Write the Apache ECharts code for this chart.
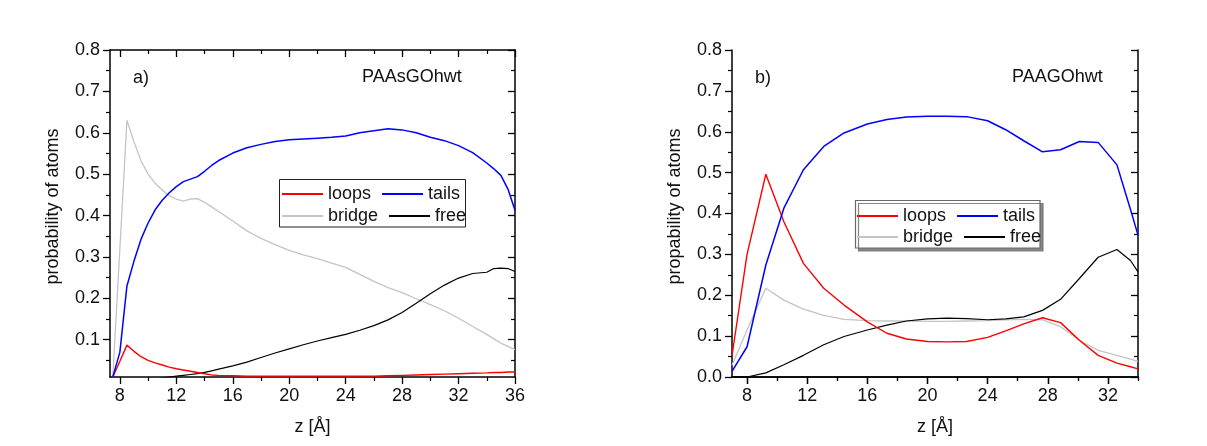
<!DOCTYPE html>
<html>
<head>
<meta charset="utf-8">
<script src="https://cdn.jsdelivr.net/npm/echarts@6/dist/echarts.min.js"></script>
<style>
  html, body { margin: 0; padding: 0; background: #ffffff; }
  #chart { width: 1207px; height: 446px; }
</style>
</head>
<body>
<div id="chart"></div>
<script>
// Panel a) PAAsGOhwt
const zA = [7.5, 8, 8.5, 9, 9.5, 10, 10.5, 11, 11.5, 12, 12.5, 13, 13.5, 14, 14.5, 15, 16, 17, 18, 19, 20,
            21, 22, 23, 24, 25, 26, 27, 28, 29, 30, 31, 32, 33, 34, 34.5, 35, 35.5, 36];
const loopsA = [0.010, 0.048, 0.087, 0.072, 0.059, 0.050, 0.044, 0.039, 0.034, 0.030, 0.027, 0.024, 0.021,
                0.018, 0.015, 0.014, 0.013, 0.012, 0.012, 0.012, 0.012, 0.012, 0.012, 0.012, 0.012, 0.012,
                0.012, 0.013, 0.014, 0.015, 0.016, 0.017, 0.018, 0.019, 0.020, 0.021, 0.021, 0.022, 0.022];
const tailsA = [0.010, 0.070, 0.230, 0.290, 0.343, 0.382, 0.414, 0.437, 0.455, 0.470, 0.482, 0.488, 0.494,
                0.507, 0.521, 0.533, 0.551, 0.564, 0.572, 0.579, 0.583, 0.585, 0.587, 0.589, 0.592, 0.600,
                0.605, 0.610, 0.607, 0.600, 0.589, 0.581, 0.569, 0.552, 0.527, 0.513, 0.497, 0.464, 0.413];
const bridgeA = [0.010, 0.320, 0.630, 0.578, 0.532, 0.500, 0.478, 0.462, 0.448, 0.440, 0.435, 0.440, 0.441,
                 0.432, 0.421, 0.410, 0.387, 0.363, 0.345, 0.330, 0.316, 0.305, 0.296, 0.285, 0.275, 0.258,
                 0.241, 0.226, 0.214, 0.199, 0.185, 0.170, 0.152, 0.132, 0.113, 0.102, 0.092, 0.084, 0.076];
const freeA = [0, 0, 0, 0, 0, 0, 0, 0.008, 0.010, 0.012, 0.014, 0.016, 0.018,
               0.021, 0.025, 0.029, 0.037, 0.046, 0.057, 0.068, 0.078, 0.088, 0.097, 0.105, 0.113, 0.123,
               0.134, 0.148, 0.166, 0.188, 0.211, 0.232, 0.249, 0.260, 0.263, 0.272, 0.273, 0.272, 0.265];

// Panel b) PAAGOhwt
const zB = [7.0, 8.0, 9.25, 10.45, 11.75, 13.1, 14.45, 16.0, 17.3, 18.6, 20.0, 21.3, 22.6, 24.0, 25.2,
            26.4, 27.65, 28.85, 30.1, 31.35, 32.6, 33.5, 34.0];
const loopsB = [0.052, 0.300, 0.496, 0.380, 0.278, 0.217, 0.176, 0.135, 0.107, 0.093, 0.087, 0.086, 0.087,
                0.097, 0.113, 0.130, 0.145, 0.133, 0.090, 0.053, 0.034, 0.025, 0.020];
const tailsB = [0.014, 0.074, 0.274, 0.413, 0.507, 0.564, 0.597, 0.619, 0.630, 0.636, 0.638, 0.638, 0.637,
                0.627, 0.605, 0.578, 0.551, 0.556, 0.576, 0.574, 0.519, 0.410, 0.347];
const bridgeB = [0.029, 0.115, 0.217, 0.188, 0.166, 0.151, 0.141, 0.138, 0.137, 0.137, 0.136, 0.136, 0.137,
                 0.138, 0.140, 0.141, 0.140, 0.123, 0.090, 0.065, 0.053, 0.044, 0.038];
const freeB = [0.000, 0.000, 0.010, 0.030, 0.053, 0.079, 0.099, 0.115, 0.127, 0.137, 0.142, 0.144, 0.143,
               0.140, 0.142, 0.147, 0.163, 0.190, 0.241, 0.293, 0.312, 0.285, 0.257];

// Tick positions
const xTicksA = [8, 12, 16, 20, 24, 28, 32, 36];
const xMinorA = [10, 14, 18, 22, 26, 30, 34];
const xTicksB = [8, 12, 16, 20, 24, 28, 32];
const xMinorB = [10, 14, 18, 22, 26, 30, 34];
const yTicksA = [0.1, 0.2, 0.3, 0.4, 0.5, 0.6, 0.7, 0.8];
const yTicksB = [0.0, 0.1, 0.2, 0.3, 0.4, 0.5, 0.6, 0.7, 0.8];
const yMinor = [0.05, 0.15, 0.25, 0.35, 0.45, 0.55, 0.65, 0.75];

const legendRow1 = ['loops', 'tails'];
const legendRow2 = ['bridge', 'free'];
const seriesColors = { loops: '#ff0000', tails: '#0000ff', bridge: '#c4c4c4', free: '#000000' };
const seriesWidths = { loops: 1.4, tails: 1.5, bridge: 1.3, free: 1.2 };

const FONT = "'Liberation Sans', Arial, sans-serif";
const INK = '#111111';

function pairs(xs, ys) { return xs.map((x, i) => [x, ys[i]]); }

function xAxesFor(grid, min, max, major, minor) {
  const base = { type: 'value', gridIndex: grid, min: min, max: max, splitLine: { show: false } };
  const line = { show: true, lineStyle: { color: '#000', width: 1.5 } };
  return [
    Object.assign({}, base, {
      position: 'bottom', axisLine: line,
      axisTick: { show: true, inside: false, length: 7, customValues: major, lineStyle: { color: '#000', width: 1.3 } },
      axisLabel: { show: true, customValues: major, margin: 10, color: INK, fontSize: 18, fontFamily: FONT },
      name: 'z [Å]', nameLocation: 'middle', nameGap: 41,
      nameTextStyle: { color: INK, fontSize: 18, fontFamily: FONT }
    }),
    Object.assign({}, base, {
      position: 'bottom', axisLine: { show: false },
      axisTick: { show: true, inside: false, length: 4, customValues: minor, lineStyle: { color: '#000', width: 1.2 } },
      axisLabel: { show: false }
    }),
    Object.assign({}, base, {
      position: 'top', axisLine: line,
      axisTick: { show: true, inside: true, length: 7, customValues: major, lineStyle: { color: '#000', width: 1.3 } },
      axisLabel: { show: false }
    }),
    Object.assign({}, base, {
      position: 'top', axisLine: { show: false },
      axisTick: { show: true, inside: true, length: 4, customValues: minor, lineStyle: { color: '#000', width: 1.2 } },
      axisLabel: { show: false }
    })
  ];
}

function yAxesFor(grid, min, max, major, minor, yName) {
  const base = { type: 'value', gridIndex: grid, min: min, max: max, splitLine: { show: false } };
  const line = { show: true, lineStyle: { color: '#000', width: 1.5 } };
  return [
    Object.assign({}, base, {
      position: 'left', axisLine: line,
      axisTick: { show: true, inside: false, length: 7, customValues: major, lineStyle: { color: '#000', width: 1.3 } },
      axisLabel: { show: true, customValues: major, margin: 10, color: INK, fontSize: 18, fontFamily: FONT,
                   formatter: v => v.toFixed(1) },
      name: yName, nameLocation: 'middle', nameGap: 48,
      nameTextStyle: { color: INK, fontSize: 18, fontFamily: FONT, padding: [0, 0, 0, 14] }
    }),
    Object.assign({}, base, {
      position: 'left', axisLine: { show: false },
      axisTick: { show: true, inside: false, length: 4, customValues: minor, lineStyle: { color: '#000', width: 1.2 } },
      axisLabel: { show: false }
    }),
    Object.assign({}, base, {
      position: 'right', axisLine: line,
      axisTick: { show: true, inside: true, length: 7, customValues: major, lineStyle: { color: '#000', width: 1.3 } },
      axisLabel: { show: false }
    }),
    Object.assign({}, base, {
      position: 'right', axisLine: { show: false },
      axisTick: { show: true, inside: true, length: 4, customValues: minor, lineStyle: { color: '#000', width: 1.2 } },
      axisLabel: { show: false }
    })
  ];
}

function lineSeries(name, grid, xs, ys) {
  return {
    type: 'line', name: name,
    xAxisIndex: grid * 4, yAxisIndex: grid * 4,
    data: pairs(xs, ys),
    symbol: 'none', smooth: false, clip: true,
    lineStyle: { color: seriesColors[name], width: seriesWidths[name] },
    itemStyle: { color: seriesColors[name] },
    emphasis: { disabled: true }
  };
}

// One legend row: short coloured bars standing in for line samples
function legendRow(names, left, top) {
  return {
    data: names.map(n => ({ name: n, icon: 'rect', itemStyle: { color: seriesColors[n] } })),
    orient: 'horizontal', left: left, top: top, padding: 0,
    itemGap: 11, itemWidth: 41, itemHeight: 2,
    textStyle: { color: INK, fontSize: 18, fontFamily: FONT },
    selectedMode: false, z: 6
  };
}

const option = {
  animation: false,
  backgroundColor: '#ffffff',
  grid: [
    { left: 110, top: 50, width: 405, height: 327 },
    { left: 732, top: 50, width: 406, height: 327 }
  ],
  xAxis: [].concat(
    xAxesFor(0, 7.3, 36, xTicksA, xMinorA),
    xAxesFor(1, 7, 34, xTicksB, xMinorB)
  ),
  yAxis: [].concat(
    yAxesFor(0, 0.01, 0.8, yTicksA, yMinor, 'probability of atoms'),
    yAxesFor(1, 0, 0.8, yTicksB, yMinor, 'propability of atoms')
  ),
  legend: [
    legendRow(legendRow1, 282, 185),
    legendRow(legendRow2, 282, 207),
    legendRow(legendRow1, 857, 207),
    legendRow(legendRow2, 857, 228)
  ],
  graphic: [
    // legend frames
    { type: 'rect', z: 5, shape: { x: 279.5, y: 179.5, width: 186, height: 47.5 },
      style: { fill: '#ffffff', stroke: '#222222', lineWidth: 1 } },
    { type: 'rect', z: 5, shape: { x: 855.5, y: 200.5, width: 184.5, height: 47.5 },
      style: { fill: '#ffffff', stroke: '#6a6a6a', lineWidth: 1.2,
               shadowColor: 'rgba(120,120,120,0.9)', shadowOffsetX: 3, shadowOffsetY: 3, shadowBlur: 0 } },
    // panel annotations
    { type: 'text', left: 133, top: 69, style: { text: 'a)', fill: INK, font: '18px ' + FONT } },
    { type: 'text', left: 362, top: 68, style: { text: 'PAAsGOhwt', fill: INK, font: '18px ' + FONT } },
    { type: 'text', left: 755, top: 69, style: { text: 'b)', fill: INK, font: '18px ' + FONT } },
    { type: 'text', left: 1012, top: 68, style: { text: 'PAAGOhwt', fill: INK, font: '18px ' + FONT } }
  ],
  series: [
    lineSeries('bridge', 0, zA, bridgeA),
    lineSeries('free', 0, zA, freeA),
    lineSeries('loops', 0, zA, loopsA),
    lineSeries('tails', 0, zA, tailsA),
    lineSeries('bridge', 1, zB, bridgeB),
    lineSeries('free', 1, zB, freeB),
    lineSeries('loops', 1, zB, loopsB),
    lineSeries('tails', 1, zB, tailsB)
  ]
};

const chart = echarts.init(document.getElementById('chart'), null, { renderer: 'canvas' });
chart.setOption(option);
</script>
</body>
</html>
